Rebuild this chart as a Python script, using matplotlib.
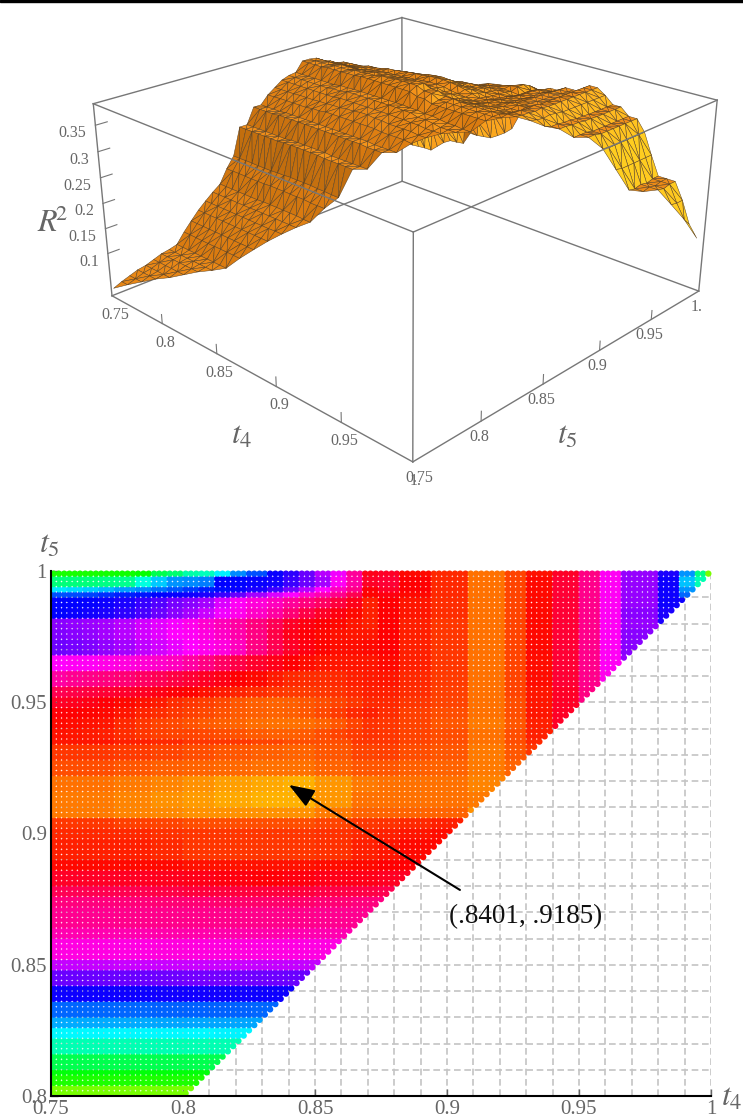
import numpy as np
import matplotlib
matplotlib.use("Agg")
import matplotlib.pyplot as plt
from matplotlib.colors import hsv_to_rgb, LinearSegmentedColormap
from matplotlib.patches import Rectangle
from matplotlib.tri import Triangulation
from mpl_toolkits.mplot3d import proj3d
from mpl_toolkits.mplot3d.art3d import Poly3DCollection

plt.rcParams["font.family"] = ["Liberation Serif", "DejaVu Serif"]
plt.rcParams["mathtext.fontset"] = "stix"

W, H = 743, 1119
GREY = "#666666"

# lower edge of each t4 block of the table
T4_EDGES = [.75, .763, .775, .788, .80, .813, .826, .838, .851, .864, .875, .882,
            .895, .909, .923, .93, .94, .95, .958, .967, .98, .989, .995, .998]
# how many t5 rows (0.002 apart, from .999 downwards) each table row covers
ROW_SPANS = [1, 2, 1, 1, 2, 2, 2, 2, 3, 3, 3, 2, 2, 2, 2, 2, 1, 3, 3, 3, 3, 2, 2, 2, 4, 2, 3,
             2, 2, 4, 2, 4, 2, 3, 3, 3, 2, 2, 3, 3, 1, 2, 2, 2, 2, 3, 3, 3, 3, 3, 3, 3]
HUE_ROWS = [
    [115, 118, 125, 135, 150, 185, 222, 245, 285, 325, 325, 335, 342, 358, 348, 337, 325, 305, 280, 255, 228, 190, 140, 85],
    [140, 145, 155, 185, 190, 222, 222, 240, 278, 325, 322, 333, 342, 358, 348, 335, 322, 303, 280, 255, 225, 180, 150],
    [178, 188, 195, 205, 220, 225, 245, 275, 300, 330, 325, 333, 342, 358, 348, 335, 322, 303, 280, 255, 225, 190],
    [205, 212, 218, 222, 228, 250, 275, 292, 305, 335, 330, 335, 342, 358, 348, 335, 322, 303, 280, 255, 225, 200],
    [222, 225, 232, 245, 255, 278, 290, 305, 320, 338, 333, 338, 343, 358, 348, 335, 322, 303, 280, 255, 225],
    [225, 228, 235, 250, 265, 280, 295, 318, 328, 336, 333, 338, 343, 358, 348, 335, 322, 303, 280, 252, 228],
    [255, 258, 262, 272, 285, 295, 310, 326, 333, 337, 333, 340, 345, 358, 348, 335, 322, 303, 280, 255, 228],
    [250, 258, 265, 275, 280, 295, 313, 327, 333, 336, 333, 340, 345, 358, 348, 335, 322, 303, 280, 252],
    [247, 252, 260, 270, 280, 290, 308, 323, 332, 335, 333, 340, 345, 358, 348, 335, 322, 303, 280, 252],
    [280, 282, 285, 290, 300, 312, 323, 332, 335, 336, 335, 340, 345, 358, 348, 336, 322, 303, 280, 255],
    [300, 305, 308, 315, 322, 328, 333, 339, 340, 338, 338, 342, 346, 358, 348, 336, 322, 303, 282],
    [318, 320, 322, 328, 333, 338, 342, 343, 343, 340, 340, 343, 347, 358, 348, 338, 325, 305],
    [325, 328, 332, 336, 341, 345, 349, 352, 348, 343, 342, 345, 348, 358, 350, 338, 325, 305],
    [333, 333, 335, 341, 345, 348, 351, 353, 349, 342, 343, 347, 350, 358, 350, 338, 325],
    [335, 336, 338, 345, 349, 352, 356, 358, 355, 345, 345, 348, 352, 360, 352, 340, 325],
    [338, 338, 340, 344, 347, 349, 350, 352, 349, 345, 345, 348, 350, 358, 350, 340],
    [338, 338, 340, 342, 345, 345, 348, 350, 350, 345, 345, 348, 350, 358, 350, 342],
    [345, 345, 346, 348, 350, 352, 354, 355, 352, 348, 347, 350, 352, 360, 352, 345],
    [350, 350, 352, 354, 355, 356, 358, 358, 355, 352, 352, 354, 355, 360, 355],
    [358, 358, 360, 362, 365, 368, 370, 372, 366, 360, 358, 358, 358, 362],
    [360, 360, 362, 365, 367, 370, 372, 372, 366, 358, 358, 358, 358, 360],
    [360, 360, 362, 363, 365, 365, 365, 365, 360, 355, 355, 355, 355, 365],
    [345, 345, 347, 348, 350, 350, 350, 350, 348, 345, 344, 342, 340],
    [342, 342, 342, 344, 345, 345, 345, 345, 344, 342, 340, 338, 336],
    [340, 340, 340, 342, 345, 345, 345, 345, 344, 340, 338, 335, 335],
    [335, 335, 335, 335, 337, 337, 337, 337, 336, 335, 333, 333],
    [325, 325, 326, 327, 328, 330, 332, 330, 328, 328, 326, 326],
    [315, 316, 316, 318, 320, 320, 320, 320, 318, 318, 316],
    [306, 306, 307, 308, 308, 310, 310, 310, 308, 306, 305],
    [302, 302, 303, 303, 303, 303, 303, 303, 302, 302],
    [295, 295, 295, 296, 296, 296, 296, 295, 295],
    [284, 284, 284, 285, 285, 285, 284, 284, 284],
    [265, 265, 266, 266, 266, 266, 265, 265, 265],
    [245, 245, 245, 246, 247, 247, 246, 245],
    [225, 225, 225, 226, 226, 226, 225, 225],
    [200, 200, 200, 201, 201, 201, 200],
    [185, 185, 185, 186, 186, 186, 186],
    [168, 168, 168, 168, 168, 169],
    [150, 150, 150, 150, 150, 150],
    [128, 128, 128, 128, 128, 128],
    [113, 113, 113, 113, 113],
    [105, 105, 105, 105, 105],
    [85, 85, 85, 85, 85],
    [78, 78, 78, 78],
    [72, 72, 72, 72],
    [68, 68, 68, 68],
    [60, 60, 60],
    [52, 52, 52],
    [48, 48],
    [40, 40],
    [32],
    [22],
]
# finer read of the first table rows, t4 from .75 in steps of TOP_STEP up to .875
TOP_STEP = .00625
TOP_LEFT = [
    [106, 106, 106, 107, 108, 110, 128, 135, 148, 152, 170, 192, 205, 224, 232, 245, 262, 275, 300, 328],
    [138, 138, 138, 140, 142, 160, 178, 190, 192, 195, 222, 222, 224, 226, 235, 245, 258, 280, 298, 325],
    [172, 175, 178, 182, 188, 192, 198, 204, 210, 216, 220, 224, 228, 236, 248, 262, 278, 292, 304, 332],
    [205, 206, 208, 212, 216, 218, 222, 224, 226, 228, 235, 245, 258, 270, 278, 288, 295, 303, 316, 334],
    [222, 222, 223, 225, 228, 234, 240, 248, 252, 258, 270, 280, 286, 292, 300, 306, 312, 320, 328, 340],
    [222, 224, 226, 228, 232, 238, 245, 252, 258, 266, 275, 282, 290, 298, 308, 318, 325, 330, 335, 340],
    [252, 254, 256, 258, 262, 268, 272, 276, 282, 288, 293, 298, 306, 315, 325, 330, 333, 335, 338, 340],
    [250, 252, 254, 258, 262, 268, 272, 278, 280, 285, 290, 296, 305, 318, 328, 332, 335, 337, 338, 338],
    [246, 248, 250, 254, 258, 264, 268, 273, 278, 282, 285, 292, 305, 316, 325, 330, 334, 336, 336, 335],
    [278, 280, 280, 283, 285, 287, 289, 292, 298, 305, 312, 318, 324, 328, 333, 336, 338, 338, 338, 338],
    [298, 302, 304, 306, 308, 312, 315, 319, 322, 326, 329, 333, 335, 339, 342, 343, 343, 342, 340, 339],
    [316, 318, 320, 322, 324, 326, 329, 332, 334, 337, 339, 341, 343, 345, 346, 346, 345, 344, 342, 340],
    [325, 327, 329, 332, 335, 337, 339, 343, 345, 347, 349, 352, 354, 355, 354, 352, 350, 348, 345, 342],
    [332, 333, 334, 335, 338, 341, 343, 345, 347, 349, 351, 353, 354, 355, 354, 352, 349, 346, 342, 340],
    [335, 336, 337, 338, 342, 345, 348, 349, 351, 353, 354, 355, 357, 358, 358, 357, 355, 352, 348, 344],
    [337, 338, 339, 340, 343, 345, 347, 348, 348, 349, 350, 351, 353, 354, 354, 353, 350, 348, 346, 344],
]
# colour scale of the map against the surface heights: table value, R^2
HUE_KNOTS = [0, 85, 200, 265, 305, 372]
R2_KNOTS = [.013, .073, .16, .23, .30, .372]

X_TICKS = [.75, .8, .85, .9, .95, 1]
X_LABELS = ["0.75", "0.8", "0.85", "0.9", "0.95", "1"]
Y_TICKS = [.8, .85, .9, .95, 1]
Y_LABELS = ["0.8", "0.85", "0.9", "0.95", "1"]
BOX_TICKS = [.75, .8, .85, .9, .95, 1]
BOX_LABELS = ["0.75", "0.8", "0.85", "0.9", "0.95", "1."]
Z_TICKS = [.1, .15, .2, .25, .3, .35]
Z_LABELS = ["0.1", "0.15", "0.2", "0.25", "0.3", "0.35"]
PEAK = (.8401, .9185)

ZMIN, ZMAX = .013, .39
ROW_OF_K = np.repeat(np.arange(len(HUE_ROWS)), ROW_SPANS)


def table_at(t4, t5):
    row = ROW_OF_K[int(round((.999 - t5) / .002))]
    if row < len(TOP_LEFT) and t4 < .875:
        return TOP_LEFT[row][int((t4 - .75) / TOP_STEP)]
    vals = HUE_ROWS[row]
    col = np.searchsorted(T4_EDGES, t4 + 1e-9, side="right") - 1
    return vals[min(col, len(vals) - 1)]


fig = plt.figure(figsize=(W / 100, H / 100), dpi=100)
fig.add_artist(Rectangle((0, 1 - 2 / H), 1, 2 / H, transform=fig.transFigure, color="black"))

# ---- map of the triangle t4 <= t5
ax = fig.add_axes([51 / W, (H - 1096) / H, 660 / W, 525 / H])
pts = [(t4, t5) for t5 in np.arange(.801, 1, .002) for t4 in np.arange(.751, t5 + 1e-6, .002)]
pts = np.array(pts)
hues = np.array([(3 * table_at(a, b) / 1000) % 1 for a, b in pts])
rgb = hsv_to_rgb(np.column_stack([hues, np.ones_like(hues), np.ones_like(hues)]))
ax.scatter(pts[:, 0], pts[:, 1], c=rgb, s=20.5, linewidths=0, zorder=3, clip_on=False)

ax.set_xlim(.75, 1)
ax.set_ylim(.8, 1)
ax.set_xticks(X_TICKS, X_LABELS)
ax.set_yticks(Y_TICKS, Y_LABELS)
ax.set_xticks(np.arange(.75, 1.001, .01), minor=True)
ax.set_yticks(np.arange(.8, 1.001, .01), minor=True)
ax.grid(which="both", color="#c4c4c4", lw=1.2, ls=(0, (4, 2.2)), zorder=1)
ax.set_axisbelow(True)
ax.tick_params(which="major", direction="in", length=5, width=1, color=GREY,
               labelcolor=GREY, labelsize=15, pad=3)
ax.tick_params(which="minor", length=0)
for s in ["top", "right"]:
    ax.spines[s].set_visible(False)
for s in ["left", "bottom"]:
    ax.spines[s].set_linewidth(1.5)
    ax.spines[s].set_zorder(4)

ax.annotate("", xy=PEAK, xytext=(.9049, .8785),
            arrowprops=dict(arrowstyle="-|>,head_length=0.6,head_width=0.22", color="black", lw=1.5,
                            mutation_scale=26, shrinkA=0, shrinkB=0), zorder=6)
ax.text(.9299, .8685, "(.8401, .9185)", fontsize=19.5, ha="center", va="center", color="#111111", zorder=6)

fig.text(49 / W, 1 - 545 / H, "$t_5$", fontsize=23, color=GREY, ha="center", va="center")
fig.text(732 / W, 1 - 1098 / H, "$t_4$", fontsize=23, color=GREY, ha="center", va="center")

# ---- the same R^2 over the full triangle as a faceted surface
ax3 = fig.add_axes([(398 - 310.5) / W, (H - 209 - 310.5) / H, 621 / W, 621 / H], projection="3d",
                   computed_zorder=False)
ax3.set_proj_type("persp", focal_length=.4)
ax3.view_init(elev=23.3, azim=-46)
ax3.set_box_aspect((1, 1, .487))
ax3.set_xlim(.75, 1, view_margin=0)
ax3.set_ylim(.75, 1, view_margin=0)
ax3.set_zlim(ZMIN, ZMAX, view_margin=0)
ax3.set_axis_off()

mesh = [(t4, t5) for t5 in np.arange(.751, 1, .006) for t4 in np.arange(.751, t5 + 1e-6, .006)]
mesh = np.array(mesh)
z = np.interp([table_at(a, b) for a, b in mesh], HUE_KNOTS, R2_KNOTS)
tri = Triangulation(mesh[:, 0], mesh[:, 1])
verts = np.column_stack([mesh, z])[tri.triangles]

# facet colour from its normal, light coming from the t4 = 1 side
v = verts * np.array([1 / .25, 1 / .25, .487 / (ZMAX - ZMIN)])
n = np.cross(v[:, 1] - v[:, 0], v[:, 2] - v[:, 0])
n = n * np.sign(n[:, 2])[:, None] / np.linalg.norm(n, axis=1)[:, None]
shade = np.clip(.48 + .55 * n[:, 0] + .3 * n[:, 1], 0, 1)
cmap = LinearSegmentedColormap.from_list("orange", ["#6e4208", "#d97a10", "#f3901a", "#ffb320", "#ffcf20"])
surf = Poly3DCollection(verts, facecolors=cmap(shade), edgecolors="#5a4020", linewidths=.35, zorder=3)
ax3.add_collection3d(surf)

a, b, z0, z1 = .75, 1, ZMIN, ZMAX
back = [((a, a), (a, b), (z0, z0)), ((a, b), (b, b), (z0, z0)), ((a, a), (b, b), (z0, z1)),
        ((a, a), (a, b), (z1, z1)), ((a, b), (b, b), (z1, z1)),
        ((a, a), (a, a), (z0, z1)), ((b, b), (b, b), (z0, z1)),
        ((a, b), (a, a), (z0, z0)), ((b, b), (a, b), (z0, z0))]
front = [((a, b), (a, a), (z1, z1)), ((b, b), (a, b), (z1, z1)), ((b, b), (a, a), (z0, z1))]
for xs, ys, zs in back:
    ax3.plot(xs, ys, zs, color="#777777", lw=1, zorder=1, clip_on=False)
for xs, ys, zs in front:
    ax3.plot(xs, ys, zs, color="#777777", lw=1, zorder=5, clip_on=False)


def box_label(x, y, z, lab, dx, dy, ha="center"):
    # 3D point to the 2D axes coordinates, then an offset in pixels
    px, py, _ = proj3d.proj_transform(x, y, z, ax3.get_proj())
    ax3.annotate(lab, (px, py), xytext=(dx * .72, dy * .72), textcoords="offset points",
                 fontsize=11.5, color=GREY, ha=ha, va="center", zorder=6)


for t, lab in zip(BOX_TICKS, BOX_LABELS):
    if a < t < b:
        ax3.plot((t, t), (a, a), (z0, z0 + .018), color="#777777", lw=.8, zorder=5)
        ax3.plot((b, b), (t, t), (z0, z0 + .018), color="#777777", lw=.8, zorder=5)
    box_label(t, a, z0, lab, 3, -19)
    box_label(b, t, z0, lab, 7 if t == .75 else -2, -16)
for t, lab in zip(Z_TICKS, Z_LABELS):
    ax3.plot((a, a), (a, a + .008), (t, t), color="#777777", lw=.8, zorder=5)
    box_label(a, a, t, lab, -9, -8, ha="right")

fig.text(52 / W, 1 - 224 / H, r"$R^{\!\!2}$", fontsize=23, color=GREY, ha="center", va="center")
fig.text(242 / W, 1 - 436 / H, "$t_4$", fontsize=23, color=GREY, ha="center", va="center")
fig.text(567 / W, 1 - 436 / H, "$t_5$", fontsize=23, color=GREY, ha="center", va="center")

fig.savefig("out.png", dpi=100)
